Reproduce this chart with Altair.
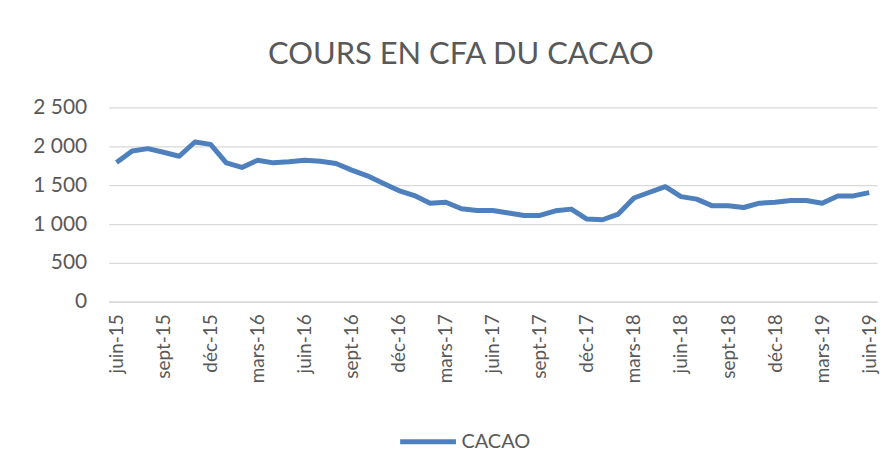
import altair as alt
import pandas as pd

months = ["juin-15", "juil-15", "août-15", "sept-15", "oct-15", "nov-15", "déc-15",
          "janv-16", "févr-16", "mars-16", "avr-16", "mai-16", "juin-16", "juil-16",
          "août-16", "sept-16", "oct-16", "nov-16", "déc-16", "janv-17", "févr-17",
          "mars-17", "avr-17", "mai-17", "juin-17", "juil-17", "août-17", "sept-17",
          "oct-17", "nov-17", "déc-17", "janv-18", "févr-18", "mars-18", "avr-18",
          "mai-18", "juin-18", "juil-18", "août-18", "sept-18", "oct-18", "nov-18",
          "déc-18", "janv-19", "févr-19", "mars-19", "avr-19", "mai-19", "juin-19"]

cacao = [1790, 1940, 1970, 1923, 1872, 2055, 2025, 1787, 1728, 1821, 1787, 1800,
         1821, 1808, 1779, 1694, 1620, 1524, 1430, 1366, 1268, 1281, 1196, 1174,
         1174, 1141, 1110, 1110, 1170, 1192, 1064, 1055, 1128, 1335, 1409, 1481,
         1353, 1320, 1234, 1234, 1213, 1268, 1281, 1302, 1302, 1268, 1362, 1362, 1404]

tick_labels = ["juin-15", "sept-15", "déc-15", "mars-16", "juin-16", "sept-16",
               "déc-16", "mars-17", "juin-17", "sept-17", "déc-17", "mars-18",
               "juin-18", "sept-18", "déc-18", "mars-19", "juin-19"]

y_ticks = [0, 500, 1000, 1500, 2000, 2500]

df = pd.DataFrame({"mois": months, "valeur": cacao, "serie": ["CACAO"] * len(months)})

FONT = "Lato"
GREY = "#595959"

chart = (
    alt.Chart(df)
    .mark_line(strokeWidth=5, strokeJoin="round", strokeCap="butt")
    .encode(
        x=alt.X(
            "mois:N",
            sort=months,
            scale=alt.Scale(paddingOuter=0.5, paddingInner=0),
            axis=alt.Axis(
                title=None,
                values=tick_labels,
                labelAngle=270,
                labelAlign="right",
                labelBaseline="middle",
                labelPadding=12,
                labelFontSize=19,
                labelFont=FONT,
                labelColor=GREY,
                ticks=False,
                domain=True,
                domainColor="#D9D9D9",
                domainWidth=1.3,
                grid=False,
                labelOverlap=False,
            ),
        ),
        y=alt.Y(
            "valeur:Q",
            scale=alt.Scale(domain=[0, 2500], nice=False),
            axis=alt.Axis(
                title=None,
                values=y_ticks,
                labelExpr="replace(format(datum.value, ','), ',', ' ')",
                labelFontSize=21,
                labelFont=FONT,
                labelColor=GREY,
                labelPadding=22,
                ticks=False,
                domain=False,
                gridColor="#D9D9D9",
                gridWidth=1.3,
                minExtent=101,
                maxExtent=101,
            ),
        ),
        color=alt.Color(
            "serie:N",
            scale=alt.Scale(range=["#4E80BD"]),
            legend=alt.Legend(
                title=None,
                orient="none",
                legendX=290,
                legendY=305,
                symbolType="stroke",
                symbolSize=3136,
                symbolStrokeWidth=5,
                labelFontSize=20,
                labelFont=FONT,
                labelColor=GREY,
                labelOffset=3,
            ),
        ),
    )
    .properties(
        width=771,
        height=195,
        padding={"left": 0, "top": 30, "right": 4, "bottom": 4},
        title=alt.TitleParams(
            "COURS EN CFA DU CACAO",
            fontSize=31,
            font=FONT,
            fontWeight="normal",
            color=GREY,
            anchor="middle",
            dx=-32,
            offset=26,
        ),
    )
    .configure_view(stroke=None)
)

chart.save("out.html", embed_options={"renderer": "svg", "actions": False})
